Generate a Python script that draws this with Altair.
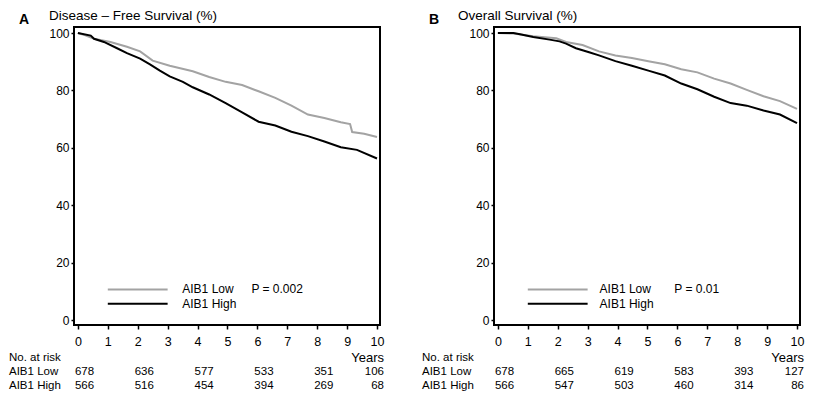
import altair as alt
import pandas as pd

# ---------------- data ----------------
dfs_low_t = [0, 0.25, 0.54, 1.09, 1.64, 2.08, 2.5, 3.07, 3.84, 4.39, 4.94, 5.49, 6.04, 6.6, 7.14, 7.69, 8.24, 8.79, 9.1, 9.17, 9.57, 10.0]
dfs_low_v = [100, 99.2, 98, 96.9, 95.2, 93.6, 90.4, 88.6, 86.7, 84.7, 83, 81.9, 79.7, 77.4, 74.7, 71.6, 70.4, 68.9, 68.3, 65.5, 64.9, 63.8]
dfs_high_t = [0, 0.43, 0.54, 0.87, 1.31, 1.64, 2.08, 2.41, 2.74, 3.07, 3.51, 3.84, 4.39, 4.94, 5.49, 6.04, 6.6, 7.14, 7.69, 8.24, 8.79, 9.33, 10]
dfs_high_v = [100, 99.1, 98, 96.9, 94.7, 93, 91.1, 89.1, 86.9, 84.9, 83, 81.1, 78.6, 75.6, 72.4, 69.1, 67.8, 65.6, 64.1, 62.2, 60.2, 59.3, 56.3]

os_low_t = [0, 0.52, 1.18, 1.95, 2.28, 2.83, 3.38, 3.93, 4.48, 5.03, 5.58, 6.13, 6.67, 7.23, 7.78, 8.32, 8.88, 9.43, 10]
os_low_v = [100, 99.8, 98.9, 98.2, 96.9, 95.8, 93.6, 92.2, 91.3, 90.2, 89.1, 87.4, 86.3, 84.1, 82.4, 80.2, 78, 76.3, 73.6]
os_high_t = [0, 0.52, 0.74, 1.18, 1.73, 2.06, 2.28, 2.61, 3.05, 3.38, 3.93, 4.48, 5.03, 5.58, 6.13, 6.67, 7.23, 7.78, 8.32, 8.88, 9.43, 10]
os_high_v = [100, 100, 99.6, 98.6, 97.7, 97.1, 96.3, 94.7, 93.3, 92.2, 90.2, 88.6, 86.9, 85.2, 82.4, 80.4, 77.8, 75.6, 74.7, 73, 71.6, 68.6]

risk_years = [0, 2, 4, 6, 8, 10]
dfs_low_risk = [678, 636, 577, 533, 351, 106]
dfs_high_risk = [566, 516, 454, 394, 269, 68]
os_low_risk = [678, 665, 619, 583, 393, 127]
os_high_risk = [566, 547, 503, 460, 314, 86]

groups = ["AIB1 Low", "AIB1 High"]
x_ticks = list(range(11))
y_ticks = [0, 20, 40, 60, 80, 100]

W = 306
H = 298
FONT = "Liberation Sans"

xs = alt.Scale(domain=[-0.13, 10.1], nice=False, zero=False)
ys = alt.Scale(domain=[-1.7, 102.1], nice=False, zero=False)
cs = alt.Scale(domain=groups, range=["#a3a3a3", "#000000"])

XAX = alt.Axis(values=x_ticks, format="d", title=None, grid=False,
               domain=False,
               tickSize=4, tickColor="black", tickWidth=1.5,
               labelFontSize=12.5, labelColor="black",
               labelOverlap=False, labelFlush=False,
               labelPadding=6, labelFont=FONT)
YAX = alt.Axis(values=y_ticks, title=None, grid=False,
               domain=False,
               tickSize=3, tickColor="black", tickWidth=1.5,
               labelFontSize=12, labelColor="black",
               labelOverlap=False, labelFlush=False,
               labelPadding=2, labelFont=FONT)


def panel(lt, lv, ht, hv, lrisk, hrisk, letter, title, letter_dx, title_dx,
          pval, legend_text_x, p_x, side_dx):
    curves = pd.DataFrame(
        {"t": lt + ht, "v": lv + hv,
         "g": [groups[0]] * len(lt) + [groups[1]] * len(ht)}
    )
    lines = alt.Chart(curves).mark_line(strokeWidth=2, clip=True).encode(
        x=alt.X("t:Q", scale=xs, axis=XAX),
        y=alt.Y("v:Q", scale=ys, axis=YAX),
        color=alt.Color("g:N", scale=cs, legend=None),
        detail="g:N",
        order="t:Q",
    )

    leg = pd.DataFrame({"x1": [1.0, 1.0], "x2": [3.0, 3.0], "y": [10.7, 5.7],
                        "g": groups, "tx": [legend_text_x, legend_text_x]})
    leg_lines = alt.Chart(leg).mark_rule(strokeWidth=2).encode(
        x=alt.X("x1:Q", scale=xs, axis=XAX), x2="x2:Q",
        y=alt.Y("y:Q", scale=ys, axis=YAX),
        color=alt.Color("g:N", scale=cs, legend=None),
    )
    leg_text = alt.Chart(leg).mark_text(align="left", baseline="middle",
                                        fontSize=12, font=FONT, color="black").encode(
        x=alt.X("tx:Q", scale=xs, axis=XAX), y=alt.Y("y:Q", scale=ys, axis=YAX), text="g:N"
    )
    ptxt = alt.Chart(pd.DataFrame({"x": [p_x], "y": [10.7], "s": [pval]})).mark_text(
        align="left", baseline="middle", fontSize=12, font=FONT, color="black"
    ).encode(x=alt.X("x:Q", scale=xs, axis=XAX), y=alt.Y("y:Q", scale=ys, axis=YAX),
             text="s:N")

    edge = pd.DataFrame({"k": [0]})
    box = alt.Chart(edge).mark_rect(fillOpacity=0, stroke="#000000", strokeWidth=2).encode(
        x=alt.value(0), x2=alt.value(W), y=alt.value(0), y2=alt.value(H))

    risk = pd.DataFrame({"t": risk_years, "lo": lrisk, "hi": hrisk})
    layers = [lines, leg_lines, leg_text, ptxt, box]
    for col, ypix in (("lo", H + 47), ("hi", H + 61)):
        base = alt.Chart(risk)
        layers.append(
            base.transform_filter("datum.t < 10").mark_text(
                align="left", baseline="middle", dx=-3, fontSize=11.5, font=FONT,
                color="black").encode(x=alt.X("t:Q", scale=xs, axis=XAX), y=alt.value(ypix),
                                      text=f"{col}:N"))
        layers.append(
            base.transform_filter("datum.t >= 10").mark_text(
                align="right", baseline="middle", dx=7, fontSize=11.5, font=FONT,
                color="black").encode(x=alt.X("t:Q", scale=xs, axis=XAX), y=alt.value(ypix),
                                      text=f"{col}:N"))

    def label(s, x, y, **kw):
        opts = dict(align="left", baseline="middle", fontSize=11.5, font=FONT, color="black")
        opts.update(kw)
        return alt.Chart(pd.DataFrame({"s": [s]})).mark_text(**opts).encode(
            x=alt.value(x), y=alt.value(y), text="s:N")

    layers += [
        label("No. at risk", side_dx, H + 33),
        label("AIB1 Low", side_dx, H + 47),
        label("AIB1 High", side_dx, H + 61),
        label("Years", W + 4, H + 33, align="right", fontSize=13),
        label(letter, letter_dx, -3, baseline="alphabetic", fontSize=14, fontWeight="bold"),
        label(title, title_dx, -7, baseline="alphabetic", fontSize=13.5),
    ]
    return alt.layer(*layers).properties(width=W, height=H)


left = panel(dfs_low_t, dfs_low_v, dfs_high_t, dfs_high_v, dfs_low_risk, dfs_high_risk,
             "A", "Disease \u2013 Free  Survival  (%)", -55, -25,
             "P = 0.002", 3.49, 5.8, -65)
right = panel(os_low_t, os_low_v, os_high_t, os_high_v, os_low_risk, os_high_risk,
              "B", "Overall  Survival  (%)", -65, -36,
              "P = 0.01", 3.4, 5.9, -72)

chart = alt.hconcat(left, right, spacing=114, bounds="flush").properties(
    padding=0
).configure(
    font=FONT,
).configure_view(stroke="black", strokeWidth=2).configure_axis(labelOverlap=False)

chart.save("out.html", embed_options={"renderer": "svg", "actions": False})
